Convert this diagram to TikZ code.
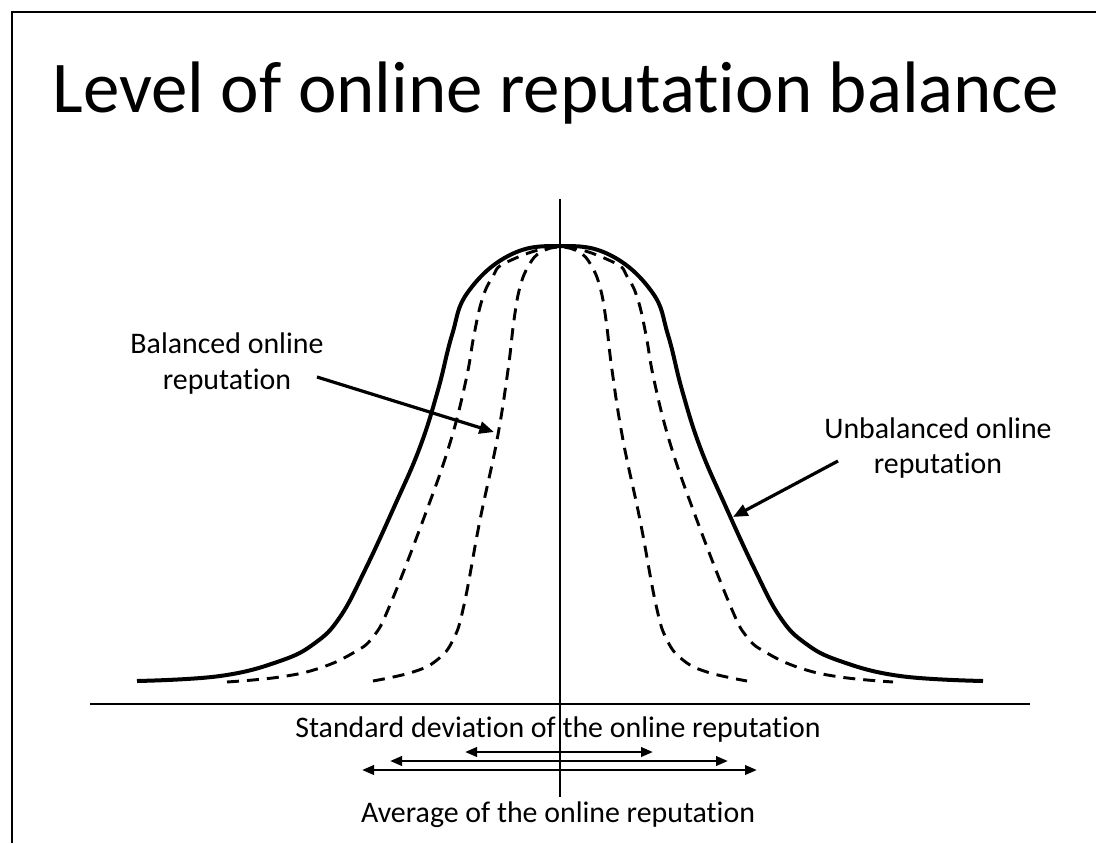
\documentclass[tikz,border=0pt]{standalone}
\usepackage{fontspec}
\setmainfont{Carlito}[Ligatures=NoCommon]
\usetikzlibrary{arrows.meta}
\begin{document}
\begin{tikzpicture}[x=0.75pt,y=-0.75pt,
  frame/.style={line width=2.2pt},
  axis/.style={line width=1.8pt},
  solidcurve/.style={line width=3pt,smooth,tension=0.7},
  dashcurve/.style={line width=2.2pt,smooth,tension=0.7,dash pattern=on 9pt off 6pt},
  pointer/.style={line width=2.4pt,-{Triangle[length=11pt,width=9pt]}},
  span/.style={line width=2pt,{Triangle[length=9pt,width=7pt]}-{Triangle[length=9pt,width=7pt]}},
  lbl/.style={font=\fontsize{22.4}{26}\selectfont,align=center,inner sep=0pt}]
\fill[white] (0,0) rectangle (1096,843);
\useasboundingbox (0,0) rectangle (1096,843);
% frame
\draw[frame] (12,843) -- (12,12) -- (1096,12);
% title
\node[anchor=base,inner sep=0pt,font=\fontsize{54.7}{66}\selectfont] (title) at (556,112) {Level of online reputation balance};
% axes
\coordinate (vtop) at (560,199);
\coordinate (vbot) at (560,797);
\coordinate (hl) at (90,704);
\coordinate (hr) at (1030,704);
\draw[axis] (vtop) -- (vbot);
\draw[line width=2pt] (hl) -- (hr);
% curves
\draw[solidcurve] plot coordinates {(137,681) (220,676) (280,661) (315,643) (340,617) (365,570) (395,505) (420,447) (438,390) (452,335) (468,292) (510,255) (560,246) (610,255) (652,292) (668,335) (682,390) (700,447) (725,505) (755,570) (780,617) (805,643) (840,661) (900,676) (983,681)};
\draw[dashcurve] plot coordinates {(227,682) (280,677) (320,668) (353,653) (373,637) (390,605) (425,515) (450,443) (466,380) (474,335) (482,300) (492,278) (507,262) (560,247) (613,262) (628,278) (638,300) (646,335) (654,380) (670,443) (695,515) (730,605) (747,637) (767,653) (800,668) (840,677) (893,682)};
\draw[dashcurve] plot coordinates {(373,681) (413,672) (437,660) (453,640) (464,605) (480,520) (497,440) (508,370) (514,320) (520,287) (529,265) (541,252) (560,247) (579,252) (591,265) (600,287) (606,320) (612,370) (623,440) (640,520) (656,605) (667,640) (683,660) (707,672) (747,681)};
% labels
\node[lbl,anchor=base] (bal1) at (227,353) {Balanced online};
\node[lbl,anchor=base] (bal2) at (227,389) {reputation};
\node[lbl,anchor=base] (unb1) at (938,438) {Unbalanced online};
\node[lbl,anchor=base] (unb2) at (938,473) {reputation};
\coordinate (balstart) at (317,377);
\coordinate (baltip) at (494,432);
\coordinate (unbstart) at (838,461);
\coordinate (unbtip) at (733,517);
\draw[pointer] (balstart) -- (baltip);
\draw[pointer] (unbstart) -- (unbtip);
% bottom
\node[lbl,anchor=base] (sd) at (558,737) {Standard deviation of the online reputation};
\node[lbl,anchor=base] (avg) at (558,822) {Average of the online reputation};
\coordinate (a1l) at (465,752); \coordinate (a1r) at (653,752);
\coordinate (a2l) at (390,761); \coordinate (a2r) at (728,761);
\coordinate (a3l) at (362,770); \coordinate (a3r) at (757,770);
\draw[span] (a1l) -- (a1r);
\draw[span] (a2l) -- (a2r);
\draw[span] (a3l) -- (a3r);
\end{tikzpicture}
\end{document}
